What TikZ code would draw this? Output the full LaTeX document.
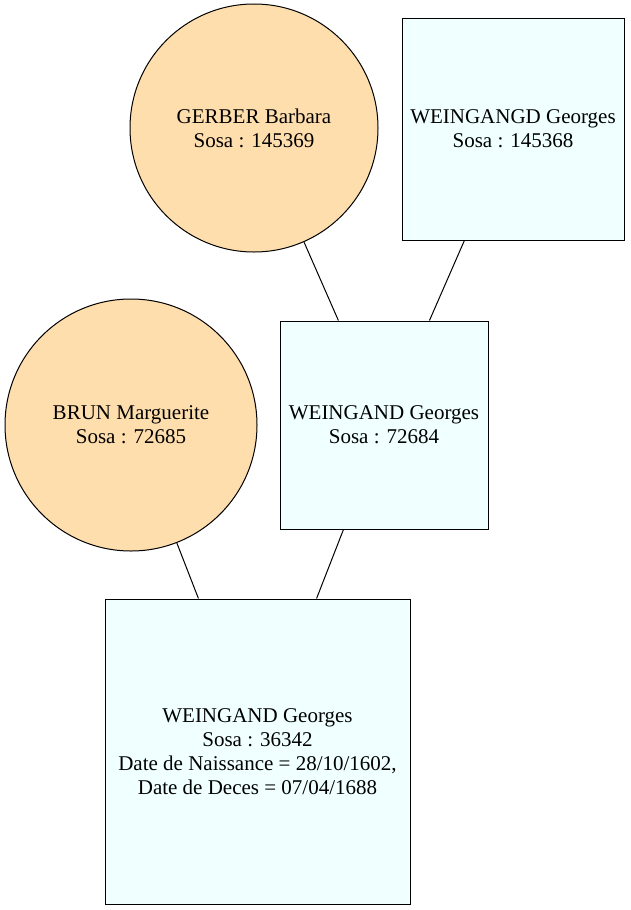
\documentclass[tikz,border=0pt]{standalone}
\usepackage{fontspec}
\setmainfont{Liberation Serif}
\definecolor{circfill}{RGB}{255,222,173}
\definecolor{boxfill}{RGB}{240,255,255}
\tikzset{
  person/.style={draw=black, line width=1pt, align=center, inner sep=0pt,
    font=\fontsize{21}{24}\selectfont},
  female/.style={person, circle, fill=circfill},
  male/.style={person, rectangle, fill=boxfill},
  link/.style={draw=black, line width=1pt}
}
\begin{document}
\begin{tikzpicture}[x=1pt,y=-1pt]
\useasboundingbox (0,0) rectangle (630,910);
\node[female, minimum size=248pt] (gerber) at (254,128) {GERBER Barbara\\Sosa : 145369};
\node[male, minimum width=222pt, minimum height=222pt] (weingangd) at (513,129) {WEINGANGD Georges\\Sosa : 145368};
\node[male, minimum width=208pt, minimum height=208pt] (w72684) at (384,425) {WEINGAND Georges\\Sosa : 72684};
\node[female, minimum size=252pt] (brun) at (131,425) {BRUN Marguerite\\Sosa : 72685};
\node[male, minimum width=305pt, minimum height=305pt] (w36342) at (257.5,751.5) {WEINGAND Georges\\Sosa : 36342\\Date de Naissance = 28/10/1602,\\Date de Deces = 07/04/1688};
\draw[link] (gerber) -- (w72684);
\draw[link] (weingangd) -- (w72684);
\draw[link] (brun) -- (w36342);
\draw[link] (w72684) -- (w36342);
\end{tikzpicture}
\end{document}
